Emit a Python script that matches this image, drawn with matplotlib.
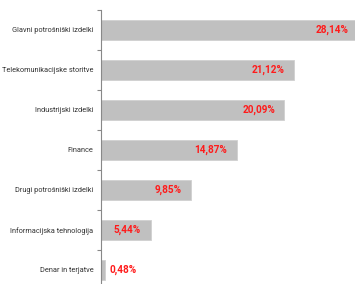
import numpy as np
import matplotlib
matplotlib.use("Agg")
import matplotlib.pyplot as plt
from matplotlib.ticker import FixedLocator

categories = [
    "Glavni potrošniški izdelki",
    "Telekomunikacijske storitve",
    "Industrijski izdelki",
    "Finance",
    "Drugi potrošniški izdelki",
    "Informacijska tehnologija",
    "Denar in terjatve",
]
values = [28.14, 21.12, 20.09, 14.87, 9.85, 5.44, 0.48]
labels = ["28,14%", "21,12%", "20,09%", "14,87%", "9,85%", "5,44%", "0,48%"]

W, H = 355, 284
fig = plt.figure(figsize=(W / 100, H / 100), dpi=100)
# axes spans past the right and bottom edge, like the cropped original
ax = fig.add_axes([101 / W, 1 - 290 / H, 274 / W, 280 / H])

y = np.arange(len(categories))
ax.barh(y, values, height=0.5, color="#c0c0c0", edgecolor="#d0d0d0", linewidth=0.6)

for yi, v, lab in zip(y, values, labels):
    if v > 3:
        ax.text(v - 1.05, yi, lab, ha="right", va="center", color="#ff1a1a",
                fontsize=7.2, fontweight="bold", family="Roboto")
    else:
        ax.text(v + 0.5, yi, lab, ha="left", va="center", color="#ff1a1a",
                fontsize=7.2, fontweight="bold", family="Roboto")

ax.set_xlim(0, 30)
ax.set_ylim(len(categories) - 0.5, -0.5)
ax.set_yticks(y)
ax.set_yticklabels(categories, fontsize=5.3, family="Roboto", color="#333333")
ax.yaxis.set_minor_locator(FixedLocator(np.arange(-0.5, len(categories), 1.0)))
ax.tick_params(axis="y", which="major", length=0, pad=5.5)
ax.tick_params(axis="y", which="minor", length=3, color="#888888", width=0.8)
ax.set_xticks([])

for s in ["top", "right", "bottom"]:
    ax.spines[s].set_visible(False)
ax.spines["left"].set_color("#888888")
ax.spines["left"].set_linewidth(0.8)

fig.savefig("out.png", dpi=100)
